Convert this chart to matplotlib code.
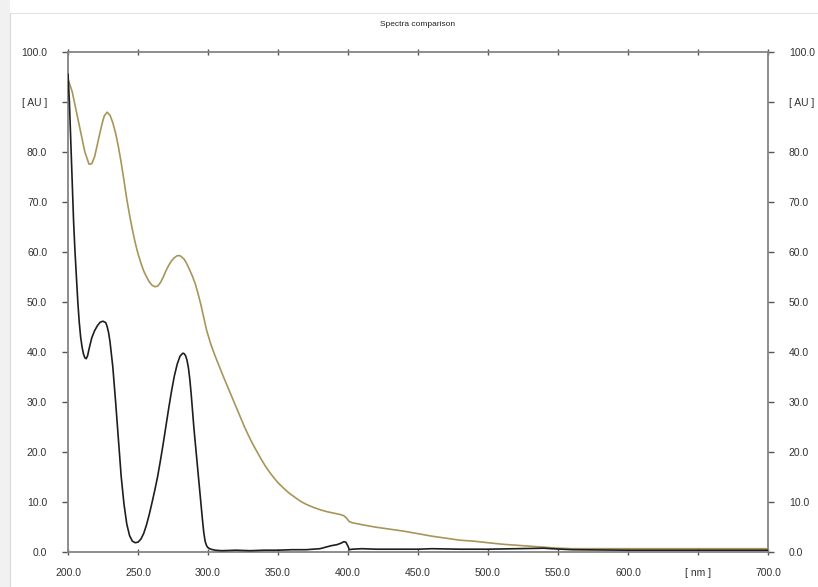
import matplotlib
matplotlib.use('Agg')
import matplotlib.pyplot as plt
import matplotlib.patches as mpatches
from matplotlib.lines import Line2D

plt.rcParams['font.family'] = ['Liberation Sans', 'DejaVu Sans']

# Spectre 1 (noir)
nm_black = [200, 201, 202, 203, 204, 205, 206, 207, 208, 209, 210, 211, 212, 213, 214, 215,
            217, 219, 221, 223, 225, 227, 228, 229, 230, 232, 234, 236, 238, 240, 242, 244,
            246, 248, 250, 252, 254, 256, 258, 260, 262, 264, 266, 268, 270, 272, 274, 276,
            278, 280, 282, 283, 284, 285, 286, 287, 288, 289, 290, 291, 292, 293, 294, 295,
            296, 297, 298, 299, 300, 302, 305, 310, 320, 330, 340, 350, 360, 370, 375, 380,
            384, 388, 392, 395, 397, 398.5, 400, 401, 403, 410, 420, 430, 440, 450, 460, 480,
            500, 520, 540, 545, 560, 600, 650, 700]
abs_black = [95.5, 90, 82, 74, 66, 60, 55, 50, 46, 43, 41, 39.6, 38.8, 38.6, 39.2, 40.5,
             42.8, 44.2, 45.2, 45.9, 46.1, 45.8, 45, 43.8, 42, 37, 30, 22.5, 15, 9.5, 5.5, 3.2,
             2.1, 1.8, 1.9, 2.5, 3.6, 5.3, 7.4, 9.8, 12.3, 15, 18.2, 21.6, 25.2, 28.8, 32.2, 35.2,
             37.5, 39.1, 39.7, 39.6, 39.2, 38.3, 36.8, 34.5, 31.5, 28, 24.5, 21.5, 18.5, 15.5, 12.5, 9.5,
             6.5, 3.8, 2.0, 1.2, 0.8, 0.5, 0.3, 0.2, 0.3, 0.2, 0.3, 0.3, 0.4, 0.4, 0.5, 0.6,
             0.9, 1.2, 1.4, 1.7, 2.0, 1.9, 1.1, 0.4, 0.5, 0.6, 0.5, 0.5, 0.5, 0.5, 0.6, 0.5,
             0.5, 0.6, 0.7, 0.6, 0.4, 0.3, 0.3, 0.3]

# Spectre 2 (ocre)
nm_gold = [200, 203, 206, 209, 212, 215, 217, 219, 221, 223, 225, 226, 228, 230, 232, 234,
           236, 238, 240, 242, 244, 246, 248, 250, 252, 254, 256, 258, 260, 262, 264, 266,
           268, 270, 272, 274, 276, 278, 280, 281, 283, 285, 287, 289, 291, 293, 295, 297,
           299, 302, 305, 308, 311, 314, 317, 320, 323, 326, 329, 332, 335, 338, 341, 344,
           347, 350, 354, 358, 362, 366, 370, 375, 380, 385, 390, 395, 397, 399, 401, 403,
           410, 420, 430, 440, 450, 460, 470, 480, 490, 500, 510, 520, 530, 540, 550, 560,
           600, 650, 700]
abs_gold = [94.5, 92, 88, 84, 80, 77.5, 77.6, 79, 81.5, 84, 86.3, 87.2, 87.9, 87.3, 85.8, 83.7,
            81, 77.8, 74.2, 70.5, 67.3, 64.4, 61.8, 59.6, 57.8, 56.2, 55, 54, 53.3, 53, 53.1, 53.8,
            54.9, 56.2, 57.3, 58.2, 58.8, 59.2, 59.2, 59, 58.5, 57.5, 56.3, 55, 53.5, 51.5, 49.3, 46.8,
            44.3, 41.5, 39.2, 37.1, 35, 33, 31, 29, 27, 25, 23.2, 21.5, 20, 18.5, 17.1, 15.9,
            14.8, 13.8, 12.7, 11.7, 10.9, 10.1, 9.5, 8.9, 8.4, 8.0, 7.7, 7.4, 7.2, 6.7, 6.0, 5.8,
            5.4, 4.9, 4.5, 4.1, 3.6, 3.1, 2.7, 2.3, 2.1, 1.8, 1.5, 1.3, 1.1, 0.9, 0.7, 0.6,
            0.6, 0.6, 0.6]

xticks = [200, 250, 300, 350, 400, 450, 500, 550, 600, 650, 700]
xlabels = ['200.0', '250.0', '300.0', '350.0', '400.0', '450.0', '500.0', '550.0', '600.0', '[ nm ]', '700.0']
yticks = [0, 10, 20, 30, 40, 50, 60, 70, 80, 90, 100]
ylabels = ['0.0', '10.0', '20.0', '30.0', '40.0', '50.0', '60.0', '70.0', '80.0', '[ AU ]', '100.0']

W, H = 818, 587
fig = plt.figure(figsize=(W / 100, H / 100), dpi=100)
ax = fig.add_axes([68 / W, 1 - 551.7 / H, 700 / W, 500 / H])

# cadre gris clair
fig.add_artist(mpatches.Rectangle((0, 0), 10 / W, 1, transform=fig.transFigure,
                                  facecolor='#f1f1f1', edgecolor='none', zorder=0))
fig.add_artist(Line2D([10 / W, 10 / W], [0, 1 - 12.7 / H], transform=fig.transFigure,
                      color='#d8d8d8', linewidth=0.8))
fig.add_artist(Line2D([10 / W, 1], [1 - 12.7 / H, 1 - 12.7 / H], transform=fig.transFigure,
                      color='#e4e4e4', linewidth=0.8))

ax.plot(nm_gold, abs_gold, color='#a8955a', linewidth=1.2, zorder=3)
ax.plot(nm_black, abs_black, color='#1e1e1e', linewidth=1.2, zorder=4)

ax.set_xlim(200, 700)
ax.set_ylim(0, 100)

for s in ax.spines.values():
    s.set_color('#858585')
    s.set_linewidth(1.3)

ax.set_xticks(xticks)
ax.set_xticklabels(xlabels)
ax.set_yticks(yticks)
ax.set_yticklabels(ylabels)
ax.tick_params(axis='y', direction='out', length=4, width=1, color='#555555',
               labelsize=7.5, labelcolor='#333333', pad=11, right=True, labelright=True)
ax.tick_params(axis='x', direction='inout', length=5, width=1, color='#555555',
               labelsize=7.5, labelcolor='#333333', pad=9, top=True)

fig.text(418 / W, 1 - 24 / H, 'Spectra comparison', ha='center', va='center',
         fontsize=6, color='#222222')

plt.savefig('out.png', dpi=100)
